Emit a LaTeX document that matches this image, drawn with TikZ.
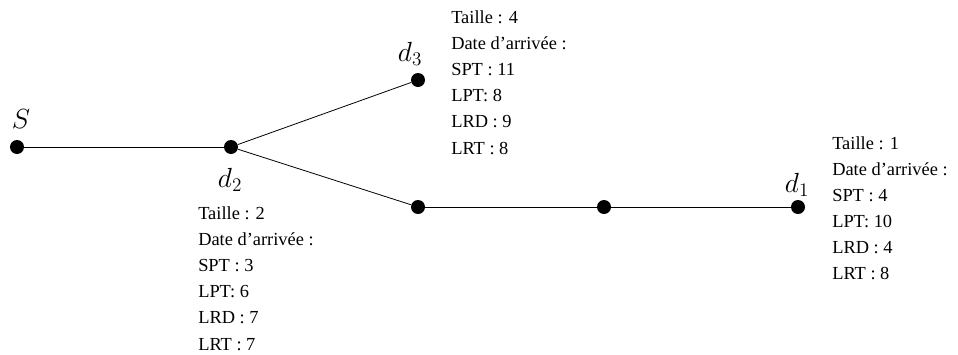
\documentclass[tikz,border=0pt]{standalone}
\usepackage{fontspec}
\setmainfont{Liberation Serif}
\usetikzlibrary{calc}

\tikzset{
	site/.style={circle, fill=black, inner sep=0pt, minimum size=10.5pt},
	info/.style={anchor=north west, inner sep=0pt, align=left,
		font=\fontsize{13.8}{19.6}\selectfont},
	tag/.style={anchor=base, inner sep=0pt, font=\fontsize{20}{24}\selectfont}
}

\begin{document}
\begin{tikzpicture}[x=0.75pt, y=-0.75pt]
	\useasboundingbox (0, 0) rectangle (958, 354);
	% the sites of the network
	\node[site] (S) at (17, 147) {};
	\node[site] (d2) at (231, 147) {};
	\node[site] (d3) at (418, 80) {};
	\node[site] (a) at (418, 207) {};
	\node[site] (b) at (604, 207) {};
	\node[site] (d1) at (798, 207) {};
	\draw[line width=0.6pt] (S) -- (d2);
	\draw[line width=0.6pt] (d2) -- (d3);
	\draw[line width=0.6pt] (d2) -- (a);
	\draw[line width=0.6pt] (a) -- (b);
	\draw[line width=0.6pt] (b) -- (d1);
	% names
	\node[tag] (lS) at (21, 128) {$S$};
	\node[tag] (l2) at (230, 187) {$d_2$};
	\node[tag] (l3) at (410, 61) {$d_3$};
	\node[tag] (l1) at (797, 192) {$d_1$};
	% sizes and arrival dates
	\node[info] (t2) at (198, 206.4) {Taille : 2\\Date d’arrivée :\\SPT : 3\\LPT: 6\\LRD : 7\\LRT : 7};
	\node[info] (t3) at (451, 10.4) {Taille : 4\\Date d’arrivée :\\SPT : 11\\LPT: 8\\LRD : 9\\LRT : 8};
	\node[info] (t1) at (832, 136) {Taille : 1\\Date d’arrivée :\\SPT : 4\\LPT: 10\\LRD : 4\\LRT : 8};
\end{tikzpicture}
\end{document}
